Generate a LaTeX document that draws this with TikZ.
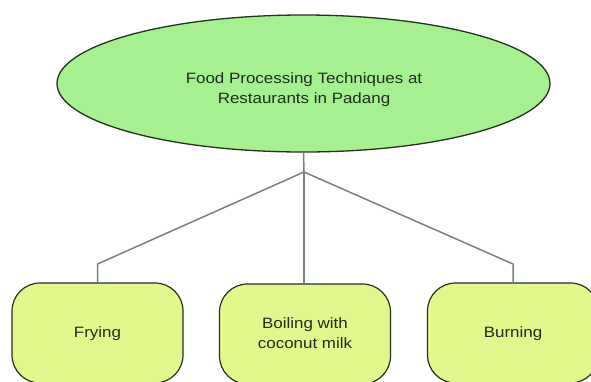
\documentclass[tikz,border=0pt]{standalone}
\usepackage{fontspec}
\setmainfont{Liberation Sans}
\usetikzlibrary{shapes.geometric}
\definecolor{elfill}{RGB}{166,240,145}
\definecolor{boxfill}{RGB}{226,247,140}
\definecolor{edgecol}{RGB}{35,50,30}
\definecolor{txtcol}{RGB}{30,45,30}
\definecolor{linecol}{RGB}{120,128,135}
\newcommand{\wtxt}[1]{\scalebox{1.13}[1]{\begin{tabular}{@{}c@{}}#1\end{tabular}}}
\begin{document}
\begin{tikzpicture}[x=1pt,y=-1pt,
  font=\fontsize{15}{20}\selectfont,
  topnode/.style={ellipse,draw=edgecol,line width=1.3pt,fill=elfill,minimum width=493pt,minimum height=137pt,inner sep=0pt,text=txtcol},
  leafbox/.style={rectangle,rounded corners=28pt,draw=edgecol,line width=1.2pt,fill=boxfill,minimum width=171pt,minimum height=100pt,inner sep=0pt,text=txtcol},
  conn/.style={draw=linecol,line width=1.5pt}]
\useasboundingbox (0,0) rectangle (591,381);
\clip (0,0) rectangle (591,381);
\node[topnode] (top) at (303.5,83.5) {};
\node[text=txtcol] (title) at (304,89) {\wtxt{Food Processing Techniques at\\Restaurants in Padang}};
\node[leafbox] (fry) at (97.5,333) {\wtxt{Frying}};
\node[leafbox] (boil) at (305,334) {\wtxt{Boiling with\\coconut milk}};
\node[leafbox] (burn) at (513,333) {\wtxt{Burning}};
\coordinate (j) at (304,172);
\coordinate (cl) at (97.5,264);
\coordinate (cr) at (513,264);
\draw[conn] (top.south) -- (j);
\draw[conn] (j) -- (cl) -- (fry.north);
\draw[conn] (j) -- (j |- boil.north);
\draw[conn] (j) -- (cr) -- (burn.north);
\end{tikzpicture}
\end{document}
